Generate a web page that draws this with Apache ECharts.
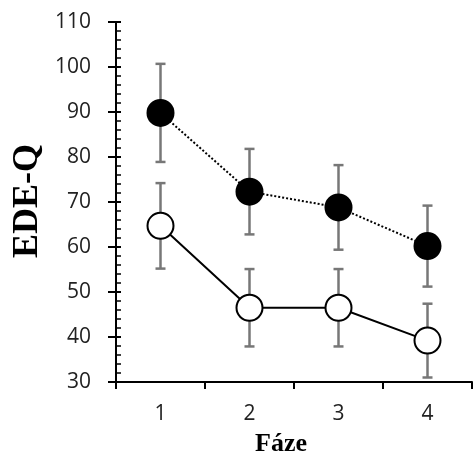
<!DOCTYPE html>
<html>
<head>
<meta charset="utf-8">
<script src="https://cdn.jsdelivr.net/npm/echarts@6/dist/echarts.min.js"></script>
<style>
html,body{margin:0;padding:0;background:#fff;}
#chart{width:474px;height:459px;}
</style>
</head>
<body>
<div id="chart"></div>
<script>
const categories = ['1', '2', '3', '4'];
const filledMean = [89.8, 72.3, 68.8, 60.2];
const filledErr = [10.9, 9.5, 9.4, 9.0];
const openMean = [64.7, 46.5, 46.5, 39.2];
const openErr = [9.5, 8.6, 8.6, 8.2];
const yTicks = {min: 30, max: 110, interval: 10};

function errData(mean, err) {
  return mean.map((m, i) => [i, m - err[i], m + err[i]]);
}

function renderErr(params, api) {
  const x = api.value(0);
  const lo = api.coord([x, api.value(1)]);
  const hi = api.coord([x, api.value(2)]);
  const hw = 5;
  const style = {stroke: '#777777', lineWidth: 2.5, fill: 'none'};
  return {
    type: 'group',
    children: [
      {type: 'line', shape: {x1: lo[0], y1: lo[1], x2: hi[0], y2: hi[1]}, style: style},
      {type: 'line', shape: {x1: hi[0] - hw, y1: hi[1], x2: hi[0] + hw, y2: hi[1]}, style: style},
      {type: 'line', shape: {x1: lo[0] - hw, y1: lo[1], x2: lo[0] + hw, y2: lo[1]}, style: style}
    ]
  };
}

const chart = echarts.init(document.getElementById('chart'));
chart.setOption({
  animation: false,
  backgroundColor: '#fff',
  grid: {left: 116, right: 2, top: 22, bottom: 77, containLabel: false},
  xAxis: {
    type: 'category',
    data: categories,
    boundaryGap: true,
    axisLine: {lineStyle: {color: '#000', width: 2}},
    axisTick: {show: true, interval: 0, length: 7, lineStyle: {color: '#000', width: 2}},
    axisLabel: {fontFamily: 'Open Sans', fontSize: 21, color: '#222', margin: 22},
    splitLine: {show: false}
  },
  yAxis: [
    {
      type: 'value',
      min: yTicks.min, max: yTicks.max, interval: yTicks.interval,
      position: 'left',
      axisLine: {show: true, lineStyle: {color: '#000', width: 2}},
      axisTick: {show: true, length: 8, lineStyle: {color: '#000', width: 2}},
      axisLabel: {fontFamily: 'Open Sans', fontSize: 21, color: '#222', margin: 25},
      splitLine: {show: false}
    },
    {
      type: 'value',
      min: yTicks.min, max: yTicks.max, interval: yTicks.interval,
      position: 'left', offset: 0,
      axisLine: {show: false},
      axisTick: {show: true, inside: true, length: 5, lineStyle: {color: '#000', width: 2}},
      minorTick: {show: true, splitNumber: 5, length: 5, lineStyle: {color: '#000', width: 1.5}},
      axisLabel: {show: false},
      splitLine: {show: false}
    }
  ],
  graphic: [
    {
      type: 'text',
      x: 28, y: 201,
      rotation: Math.PI / 2,
      style: {text: 'EDE-Q', font: 'bold 36px "Liberation Serif"', fill: '#000', align: 'center', verticalAlign: 'middle'}
    },
    {
      type: 'text',
      x: 281, y: 444,
      style: {text: 'Fáze', font: 'bold 26px "Liberation Serif"', fill: '#000', align: 'center', verticalAlign: 'middle'}
    }
  ],
  series: [
    {
      type: 'custom',
      renderItem: renderErr,
      data: errData(openMean, openErr),
      encode: {x: 0, y: [1, 2]},
      z: 1
    },
    {
      type: 'custom',
      renderItem: renderErr,
      data: errData(filledMean, filledErr),
      encode: {x: 0, y: [1, 2]},
      z: 1
    },
    {
      type: 'line',
      data: openMean,
      symbol: 'circle',
      symbolSize: 26,
      lineStyle: {color: '#000', width: 2, type: 'solid'},
      itemStyle: {color: '#fff', borderColor: '#000', borderWidth: 2},
      z: 3
    },
    {
      type: 'line',
      data: filledMean,
      symbol: 'circle',
      symbolSize: 26,
      lineStyle: {color: '#000', width: 2, type: 'dotted'},
      itemStyle: {color: '#000', borderColor: '#000', borderWidth: 2},
      z: 3
    }
  ]
});
</script>
</body>
</html>
